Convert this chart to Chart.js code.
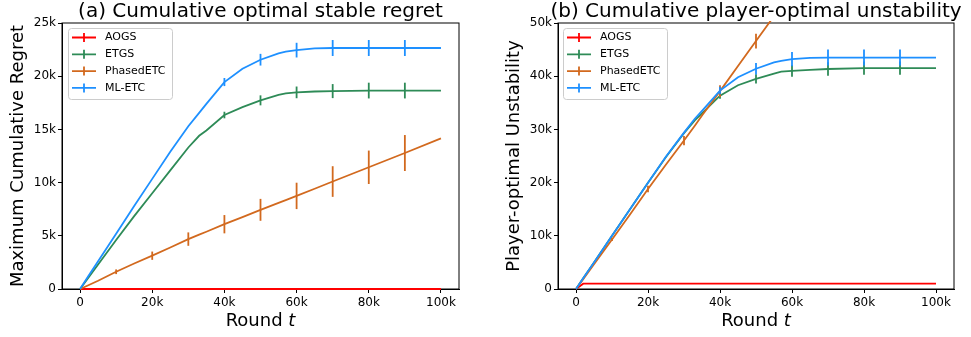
<!DOCTYPE html>
<html>
<head>
<meta charset="utf-8">
<script src="https://cdn.jsdelivr.net/npm/chart.js@4.4.0/dist/chart.umd.min.js"></script>
<style>
    body { margin: 0; background: #fff; }
    .panel { position: absolute; top: 0; }
</style>
</head>
<body>
<div class="panel" style="left:0"><canvas id="chartA" width="485" height="337"></canvas></div>
<div class="panel" style="left:485px"><canvas id="chartB" width="486" height="337"></canvas></div>
<script>
// Shared x positions (rounds)
const rounds = [0, 2000, 5000, 10000, 15000, 20000, 25000, 30000, 33000, 35000, 40000,
    45000, 50000, 55000, 57000, 60000, 65000, 70000, 80000, 90000, 100000];
const roundTicks = [0, 20000, 40000, 60000, 80000, 100000];

const seriesNames = ['AOGS', 'ETGS', 'PhasedETC', 'ML-ETC'];
const seriesColors = ['#ff0000', '#2e8b57', '#d2691e', '#1e90ff'];

// (a) Cumulative optimal stable regret
const aogsRegret   = [0, 0, 0, 0, 0, 0, 0, 0, 0, 0, 0, 0, 0, 0, 0, 0, 0, 0, 0, 0, 0];
const etgsRegret   = [0, 920, 2300, 4600, 6850, 9000, 11150, 13300, 14400, 14900, 16350,
    17100, 17730, 18250, 18390, 18480, 18560, 18600, 18650, 18650, 18650];
const phasedRegret = [0, 310, 780, 1620, 2400, 3130, 3900, 4690, 5110, 5380, 6090,
    6760, 7440, 8100, 8360, 8750, 9420, 10100, 11440, 12780, 14160];
const mletcRegret  = [0, 1050, 2600, 5200, 7800, 10350, 12900, 15300, 16550, 17400, 19450,
    20700, 21550, 22150, 22320, 22450, 22620, 22650, 22650, 22650, 22650];

const aogsRegretErr   = [0, 0, 0, 0, 0, 0, 0, 0, 0, 0, 0, 0, 0, 0, 0, 0, 0, 0, 0, 0, 0];
const etgsRegretErr   = [0, 0, 0, 0, 0, 0, 0, 0, 0, 0, 310, 0, 470, 0, 0, 550, 0, 660, 740, 740, 0];
const phasedRegretErr = [0, 0, 0, 220, 0, 390, 0, 630, 0, 0, 860, 0, 1030, 0, 0, 1240, 0, 1440, 1570, 1690, 0];
const mletcRegretErr  = [0, 0, 0, 0, 0, 0, 0, 0, 0, 0, 380, 0, 550, 0, 0, 690, 0, 750, 750, 750, 0];

// (b) Cumulative player-optimal unstability
const aogsUnstab   = [0, 1000, 1000, 1000, 1000, 1000, 1000, 1000, 1000, 1000, 1000,
    1000, 1000, 1000, 1000, 1000, 1000, 1000, 1000, 1000, 1000];
const etgsUnstab   = [0, 2000, 5000, 10000, 15000, 19950, 24800, 29300, 31700, 33000, 36350,
    38300, 39500, 40500, 40850, 41000, 41200, 41350, 41500, 41500, 41500];
const phasedUnstab = [0, 1860, 4650, 9300, 14000, 18800, 23400, 27900, 30700, 32600, 37200,
    41900, 46600, 51300, 53200, 56000, 60600, 65300, 74600, 84000, 93300];
const mletcUnstab  = [0, 2000, 5000, 10000, 15000, 19950, 24900, 29400, 32000, 33500, 37300,
    39800, 41400, 42600, 42900, 43200, 43450, 43500, 43500, 43500, 43500];

const aogsUnstabErr   = [0, 0, 0, 0, 0, 0, 0, 0, 0, 0, 0, 0, 0, 0, 0, 0, 0, 0, 0, 0, 0];
const etgsUnstabErr   = [0, 0, 0, 0, 0, 0, 0, 0, 0, 0, 600, 0, 850, 0, 0, 1100, 0, 1250, 1250, 1250, 0];
const phasedUnstabErr = [0, 0, 0, 300, 0, 600, 0, 880, 0, 0, 1100, 0, 1400, 0, 0, 1700, 0, 2000, 2300, 2600, 0];
const mletcUnstabErr  = [0, 0, 0, 0, 0, 0, 0, 0, 0, 0, 700, 0, 1100, 0, 0, 1350, 0, 1500, 1500, 1500, 0];

const FONT = "'DejaVu Sans', sans-serif";
const LINE_W = 1.8;

function fmtK(value) {
    return value === 0 ? '0' : (value / 1000) + 'k';
}

// Box, error bars, legend, title and x label
const extrasPlugin = {
    id: 'extras',
    beforeDatasetsDraw(chart) {
        // Frame round the plot, under the lines
        const ctx = chart.ctx;
        const area = chart.chartArea;
        ctx.save();
        ctx.strokeStyle = '#000';
        ctx.lineWidth = 1;
        ctx.strokeRect(area.left, area.top, area.right - area.left, area.bottom - area.top);
        ctx.restore();
    },
    afterDatasetsDraw(chart) {
        const ctx = chart.ctx;
        const area = chart.chartArea;
        const x = chart.scales.x, y = chart.scales.y;
        ctx.save();
        ctx.beginPath();
        ctx.rect(area.left, area.top, area.right - area.left, area.bottom - area.top);
        ctx.clip();
        chart.data.datasets.forEach(ds => {
            ctx.strokeStyle = ds.borderColor;
            ctx.lineWidth = LINE_W;
            ds.errors.forEach((err, i) => {
                if (!err) return;
                const px = x.getPixelForValue(rounds[i]);
                ctx.beginPath();
                ctx.moveTo(px, y.getPixelForValue(ds.values[i] - err));
                ctx.lineTo(px, y.getPixelForValue(ds.values[i] + err));
                ctx.stroke();
            });
        });
        ctx.restore();
    },
    afterDraw(chart) {
        const ctx = chart.ctx;
        const area = chart.chartArea;
        const opts = chart.options.plugins.extras;
        ctx.save();

        // Title
        ctx.fillStyle = '#000';
        ctx.font = '20px ' + FONT;
        ctx.textAlign = 'center';
        ctx.textBaseline = 'alphabetic';
        ctx.fillText(opts.title, (area.left + area.right) / 2, 17);

        // X label "Round t" with italic t
        ctx.font = '18px ' + FONT;
        const w1 = ctx.measureText('Round ').width;
        ctx.font = 'italic 18px ' + FONT;
        const w2 = ctx.measureText('t').width;
        let sx = (area.left + area.right) / 2 - (w1 + w2) / 2;
        ctx.textAlign = 'left';
        ctx.textBaseline = 'middle';
        ctx.font = '18px ' + FONT;
        ctx.fillText('Round ', sx, 321);
        ctx.font = 'italic 18px ' + FONT;
        ctx.fillText('t', sx + w1, 321);

        // Legend
        const bx = area.left + opts.legendDx, by = area.top + 5;
        ctx.fillStyle = 'rgba(255,255,255,0.8)';
        ctx.strokeStyle = '#cccccc';
        ctx.beginPath();
        ctx.roundRect(bx + 0.5, by + 0.5, 104, 71, 3);
        ctx.fill();
        ctx.stroke();
        ctx.font = '11px ' + FONT;
        ctx.textBaseline = 'middle';
        seriesNames.forEach((name, i) => {
            const cy = by + 9.5 + i * 16.8;
            ctx.strokeStyle = seriesColors[i];
            ctx.lineWidth = LINE_W;
            ctx.beginPath();
            ctx.moveTo(bx + 4, cy);
            ctx.lineTo(bx + 28, cy);
            ctx.moveTo(bx + 16, cy - 4.5);
            ctx.lineTo(bx + 16, cy + 4.5);
            ctx.stroke();
            ctx.fillStyle = '#000';
            ctx.fillText(name, bx + 37, cy);
        });
        ctx.restore();
    }
};

function makeDatasets(values, errors) {
    return seriesNames.map((name, i) => ({
        label: name,
        data: rounds.map((r, j) => ({ x: r, y: values[i][j] })),
        values: values[i],
        errors: errors[i],
        borderColor: seriesColors[i],
        backgroundColor: seriesColors[i],
        borderWidth: LINE_W,
        pointRadius: 0,
        tension: 0,
        clip: 2,
        order: seriesNames.length - i
    }));
}

function makeChart(canvasId, cfg) {
    const tickFont = { family: FONT, size: 12 };
    return new Chart(document.getElementById(canvasId), {
        type: 'line',
        data: { datasets: makeDatasets(cfg.values, cfg.errors) },
        options: {
            responsive: false,
            animation: false,
            layout: { padding: { top: 23, right: cfg.padRight, left: 0, bottom: 0 } },
            plugins: {
                legend: { display: false },
                tooltip: { enabled: false },
                extras: { title: cfg.title, legendDx: cfg.legendDx }
            },
            scales: {
                x: {
                    type: 'linear',
                    min: -5000,
                    max: 105000,
                    afterBuildTicks: s => { s.ticks = roundTicks.map(v => ({ value: v })); },
                    afterFit: s => { s.height = 48; },
                    grid: { drawOnChartArea: false, tickLength: 4, color: '#000' },
                    border: { color: '#000' },
                    ticks: {
                        autoSkip: false,
                        maxRotation: 0,
                        padding: 3,
                        color: '#000',
                        font: tickFont,
                        callback: fmtK
                    }
                },
                y: {
                    min: 0,
                    max: cfg.yMax,
                    afterFit: s => { s.width = cfg.yAxisWidth; },
                    grid: { drawOnChartArea: false, tickLength: 4, color: '#000' },
                    border: { color: '#000' },
                    ticks: {
                        stepSize: cfg.yStep,
                        padding: 2,
                        color: '#000',
                        font: tickFont,
                        callback: fmtK
                    },
                    title: {
                        display: true,
                        text: cfg.yLabel,
                        color: '#000',
                        font: { family: FONT, size: 18 },
                        padding: { top: cfg.yTitlePad, bottom: 0 }
                    }
                }
            }
        },
        plugins: [extrasPlugin]
    });
}

makeChart('chartA', {
    title: '(a) Cumulative optimal stable regret',
    yLabel: 'Maximum Cumulative Regret',
    values: [aogsRegret, etgsRegret, phasedRegret, mletcRegret],
    errors: [aogsRegretErr, etgsRegretErr, phasedRegretErr, mletcRegretErr],
    yMax: 25000,
    yStep: 5000,
    yAxisWidth: 62,
    yTitlePad: 8,
    padRight: 26,
    legendDx: 6
});

makeChart('chartB', {
    title: '(b) Cumulative player-optimal unstability',
    yLabel: 'Player-optimal Unstability',
    values: [aogsUnstab, etgsUnstab, phasedUnstab, mletcUnstab],
    errors: [aogsUnstabErr, etgsUnstabErr, phasedUnstabErr, mletcUnstabErr],
    yMax: 50000,
    yStep: 10000,
    yAxisWidth: 73,
    yTitlePad: 19,
    padRight: 17,
    legendDx: 5
});
</script>
</body>
</html>
